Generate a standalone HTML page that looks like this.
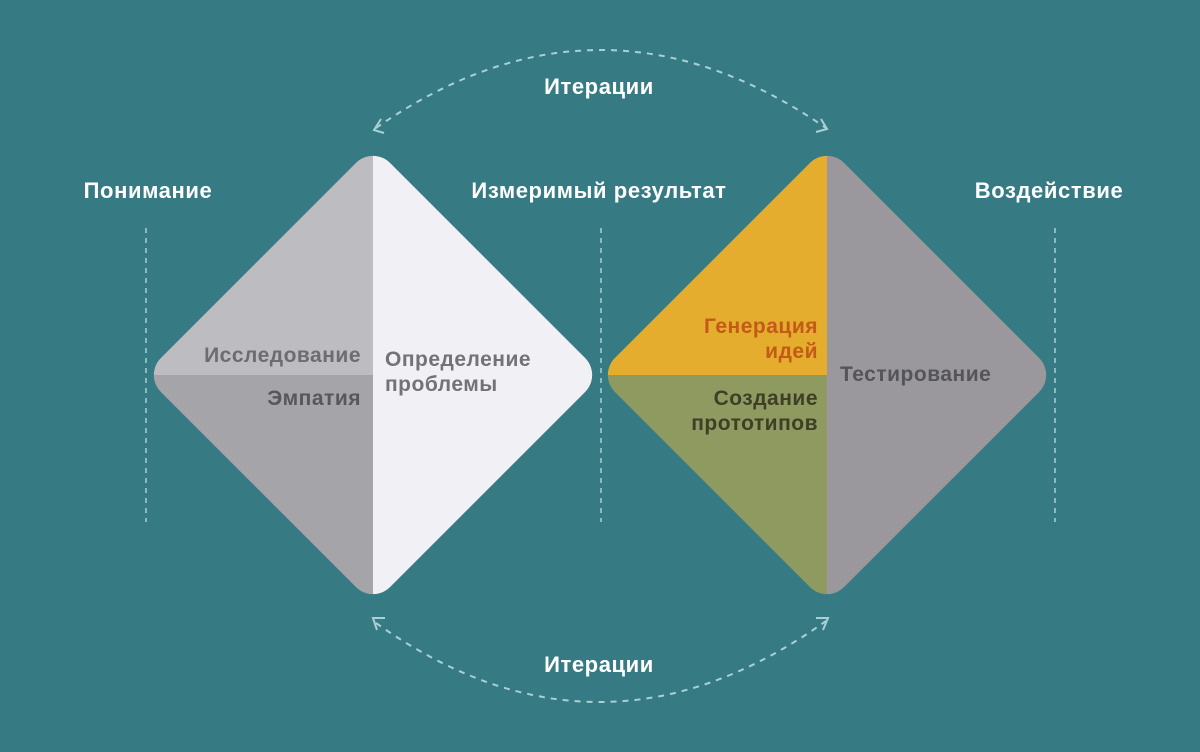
<!DOCTYPE html>
<html><head><meta charset="utf-8"><style>
html,body{margin:0;padding:0;background:#367b84;}
svg{display:block;}
text{font-family:"Liberation Sans","DejaVu Sans",sans-serif;font-weight:bold;}
</style></head><body>
<svg width="1200" height="752" viewBox="0 0 1200 752" xmlns="http://www.w3.org/2000/svg">
<rect width="1200" height="752" fill="#367b84"/>
<defs>
<clipPath id="d1"><rect x="-162" y="-162" width="324" height="324" rx="24" transform="translate(373,375) rotate(45)"/></clipPath>
<clipPath id="d2"><rect x="-162" y="-162" width="324" height="324" rx="24" transform="translate(827,375) rotate(45)"/></clipPath>
</defs>
<g clip-path="url(#d1)">
<rect x="130" y="130" width="243" height="245" fill="#bdbcc0"/>
<rect x="130" y="375" width="243" height="250" fill="#a5a4a8"/>
<rect x="373" y="130" width="250" height="495" fill="#f1f0f4"/>
</g>
<g clip-path="url(#d2)">
<rect x="585" y="130" width="242" height="245" fill="#e4ad2d"/>
<rect x="585" y="375" width="242" height="250" fill="#8e9a60"/>
<rect x="827" y="130" width="250" height="495" fill="#9a989c"/>
</g>
<g stroke="#a9d0d4" stroke-width="1.5" stroke-dasharray="5,5" fill="none">
<line x1="146" y1="228" x2="146" y2="522"/>
<line x1="601" y1="228" x2="601" y2="522"/>
<line x1="1055" y1="228" x2="1055" y2="522"/>
</g>
<g stroke="#a9d0d4" stroke-width="2" stroke-dasharray="6,6" fill="none">
<path d="M376,128 Q600,-28 826,128"/>
<path d="M376,623 Q600,782 826,621"/>
</g>
<g stroke="#a9d0d4" stroke-width="2" fill="none">
<polyline points="381,119 374,130 384,133"/>
<polyline points="816,132 827,129 821,119"/>
<polyline points="385,618 373,618 377,630"/>
<polyline points="816,618 828,618 823,630"/>
</g>
<g fill="#ffffff" font-size="22" text-anchor="middle" letter-spacing="0.6">
<text x="148" y="198">Понимание</text>
<text x="599" y="198">Измеримый результат</text>
<text x="1049" y="198">Воздействие</text>
<text x="599" y="94">Итерации</text>
<text x="599" y="672">Итерации</text>
</g>
<g font-size="21" letter-spacing="0.5">
<text x="361" y="362" text-anchor="end" fill="#6d6c70">Исследование</text>
<text x="361" y="405" text-anchor="end" fill="#58575b">Эмпатия</text>
<text x="385" y="366" fill="#737276">Определение</text>
<text x="385" y="391" fill="#737276">проблемы</text>
<text x="818" y="333" text-anchor="end" fill="#c35a17">Генерация</text>
<text x="818" y="358" text-anchor="end" fill="#c35a17">идей</text>
<text x="818" y="405" text-anchor="end" fill="#3e3f26">Создание</text>
<text x="818" y="430" text-anchor="end" fill="#3e3f26">прототипов</text>
<text x="840" y="381" fill="#555459">Тестирование</text>
</g>
</svg>
</body></html>
